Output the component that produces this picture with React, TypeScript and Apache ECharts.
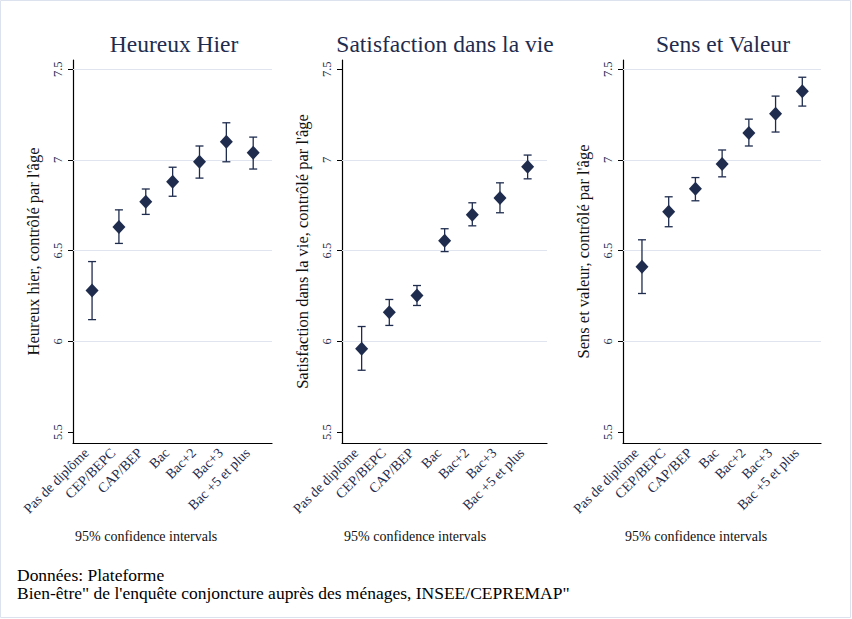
import React, { useEffect, useRef } from "react";
import * as echarts from "echarts";

const categories = ["Pas de diplôme", "CEP/BEPC", "CAP/BEP", "Bac", "Bac+2", "Bac+3", "Bac +5 et plus"];

const panelTitles = ["Heureux Hier", "Satisfaction dans la vie", "Sens et Valeur"];
const axisNames = [
  "Heureux hier, contrôlé par l'âge",
  "Satisfaction dans la vie, contrôlé par l'âge",
  "Sens et valeur, contrôlé par l'âge",
];

// point estimates
const heureuxMean = [6.28, 6.63, 6.77, 6.88, 6.99, 7.1, 7.04];
const heureuxLow = [6.12, 6.54, 6.7, 6.8, 6.9, 6.99, 6.95];
const heureuxHigh = [6.44, 6.725, 6.84, 6.96, 7.077, 7.205, 7.126];

const satisMean = [5.96, 6.16, 6.253, 6.555, 6.698, 6.791, 6.962];
const satisLow = [5.841, 6.088, 6.198, 6.495, 6.637, 6.709, 6.896];
const satisHigh = [6.082, 6.231, 6.308, 6.621, 6.764, 6.874, 7.027];

const sensMean = [6.412, 6.714, 6.841, 6.978, 7.148, 7.255, 7.379];
const sensLow = [6.264, 6.632, 6.775, 6.907, 7.077, 7.154, 7.297];
const sensHigh = [6.56, 6.797, 6.903, 7.055, 7.225, 7.352, 7.456];

const yTicks = [5.5, 6, 6.5, 7, 7.5];
const gridLines1 = [6, 6.5, 7, 7.5];
const gridLines2 = [6, 6.5, 7];
const gridLines3 = [6, 6.5, 7, 7.5];

const noteText = "95% confidence intervals";
const footerLines = [
  "Données: Plateforme",
  "Bien-être\" de l'enquête conjoncture auprès des ménages, INSEE/CEPREMAP\"",
];

const NAVY = "#1f2c4e";
const SERIF = "'Liberation Serif', 'Times New Roman', serif";

export default function App() {
  const ref = useRef<HTMLDivElement>(null);

  useEffect(() => {
    if (!ref.current) return;
    const chart = echarts.init(ref.current, undefined, { renderer: "svg" });

    const panels = [
      { mean: heureuxMean, low: heureuxLow, high: heureuxHigh, grid: gridLines1, left: 73, width: 199 },
      { mean: satisMean, low: satisLow, high: satisHigh, grid: gridLines2, left: 342, width: 205 },
      { mean: sensMean, low: sensLow, high: sensHigh, grid: gridLines3, left: 623, width: 198 },
    ];

    const grids: any[] = [];
    const xAxes: any[] = [];
    const yAxes: any[] = [];
    const series: any[] = [];
    const graphics: any[] = [];

    panels.forEach((p, i) => {
      grids.push({ left: p.left, top: 60, width: p.width, height: 383, containLabel: false });
      xAxes.push({
        type: "value",
        gridIndex: i,
        min: -0.71,
        max: 6.7,
        axisLine: { show: true, onZero: false, lineStyle: { color: "#000", width: 1.2 } },
        axisTick: { show: false },
        splitLine: { show: false },
        axisLabel: {
          customValues: [0, 1, 2, 3, 4, 5, 6],
          formatter: (v: number) => categories[Math.round(v)] ?? "",
          rotate: 45,
          margin: 2,
          padding: [0, 8, 10, 0],
          fontFamily: SERIF,
          fontSize: 14,
          color: NAVY,
        },
      });
      yAxes.push({
        type: "value",
        gridIndex: i,
        min: 5.44,
        max: 7.551,
        name: axisNames[i],
        nameLocation: "middle",
        nameGap: 31,
        nameTextStyle: { fontFamily: SERIF, fontSize: 16.5, color: "#111" },
        axisLine: { show: true, onZero: false, lineStyle: { color: "#000", width: 1.2 } },
        axisTick: { show: true, customValues: yTicks, length: 5, lineStyle: { color: "#000" } },
        splitLine: { show: false },
        axisLabel: {
          customValues: yTicks,
          formatter: (v: number) => String(v),
          rotate: 90,
          margin: 9,
          fontFamily: SERIF,
          fontSize: 12.5,
          color: NAVY,
        },
      });
      series.push({
        type: "custom",
        xAxisIndex: i,
        yAxisIndex: i,
        silent: true,
        data: p.mean.map((_, k) => [k, p.low[k], p.high[k]]),
        encode: { x: 0, y: [1, 2] },
        renderItem: (params: any, api: any) => {
          const x = api.value(0);
          const lo = api.coord([x, api.value(1)]);
          const hi = api.coord([x, api.value(2)]);
          const w = 4;
          const st = { stroke: NAVY, lineWidth: 1.3 };
          return {
            type: "group",
            children: [
              { type: "line", shape: { x1: lo[0], y1: lo[1], x2: hi[0], y2: hi[1] }, style: st },
              { type: "line", shape: { x1: hi[0] - w, y1: hi[1], x2: hi[0] + w, y2: hi[1] }, style: st },
              { type: "line", shape: { x1: lo[0] - w, y1: lo[1], x2: lo[0] + w, y2: lo[1] }, style: st },
            ],
          };
        },
        z: 3,
      });
      series.push({
        type: "scatter",
        xAxisIndex: i,
        yAxisIndex: i,
        symbol: "diamond",
        symbolSize: [13, 14],
        itemStyle: { color: NAVY, opacity: 1 },
        data: p.mean.map((v, k) => [k, v]),
        z: 4,
        markLine: {
          silent: true,
          symbol: "none",
          label: { show: false },
          lineStyle: { color: "#dfe4ee", type: "solid", width: 1 },
          data: p.grid.map((g) => ({ yAxis: g })),
          z: 1,
        },
      });
      graphics.push({
        type: "text",
        left: p.left + 2,
        top: 529,
        style: { text: noteText, fontFamily: SERIF, fontSize: 14, fill: "#111" },
      });
    });

    const titleCenters = [174, 445, 723];
    panelTitles.forEach((t, i) => {
      graphics.push({
        type: "text",
        x: titleCenters[i],
        y: 44,
        style: {
          text: t,
          fontFamily: SERIF,
          fontSize: 23.5,
          fill: NAVY,
          align: "center",
          verticalAlign: "middle",
        },
      });
    });

    footerLines.forEach((line, k) => {
      graphics.push({
        type: "text",
        x: 17,
        y: 576 + k * 17.5,
        scaleX: 1.06,
        style: {
          text: line,
          fontFamily: SERIF,
          fontSize: 16.5,
          fill: "#000",
          align: "left",
          verticalAlign: "middle",
        },
      });
    });

    graphics.push({
      type: "rect",
      shape: { x: 0.5, y: 0.5, width: 850, height: 617 },
      style: { fill: "none", stroke: "#dde3ee", lineWidth: 1 },
      silent: true,
    });

    chart.setOption({
      animation: false,
      backgroundColor: "#ffffff",
      grid: grids,
      xAxis: xAxes,
      yAxis: yAxes,
      series,
      graphic: graphics,
    });

    return () => chart.dispose();
  }, []);

  return (
    <div
      ref={ref}
      style={{ position: "fixed", left: 0, top: 0, width: 852, height: 619, background: "#fff" }}
    />
  );
}
